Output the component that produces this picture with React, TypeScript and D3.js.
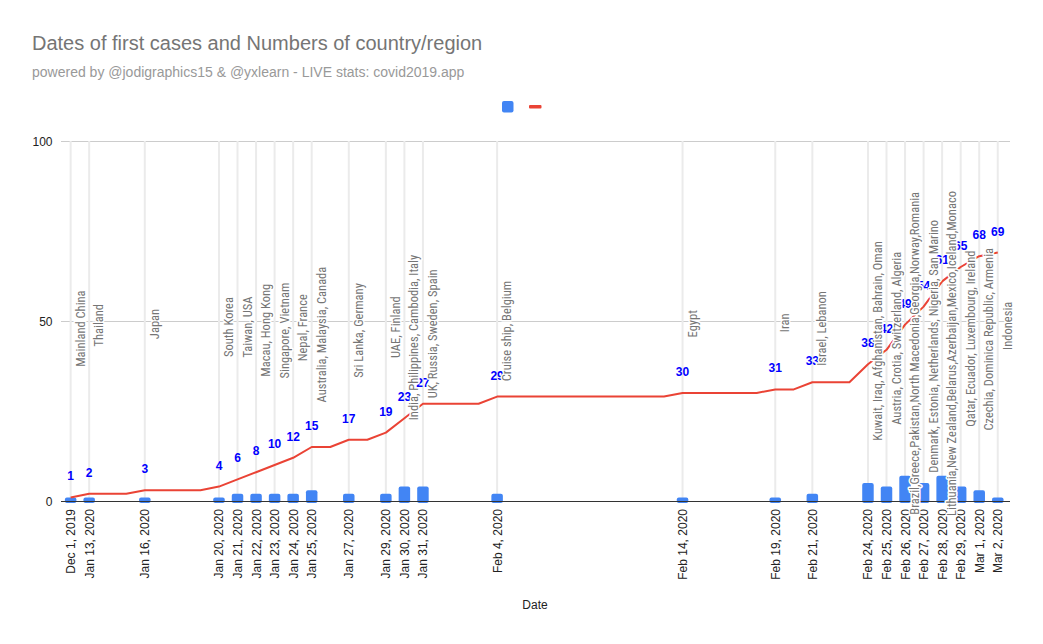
import React, { useEffect, useRef } from "react";
import * as d3 from "d3";

// ---------- data ----------
const dateLabels = [
  "Dec 1, 2019", "Jan 13, 2020", "Jan 16, 2020", "Jan 20, 2020", "Jan 21, 2020",
  "Jan 22, 2020", "Jan 23, 2020", "Jan 24, 2020", "Jan 25, 2020", "Jan 27, 2020",
  "Jan 29, 2020", "Jan 30, 2020", "Jan 31, 2020", "Feb 4, 2020", "Feb 14, 2020",
  "Feb 19, 2020", "Feb 21, 2020", "Feb 24, 2020", "Feb 25, 2020", "Feb 26, 2020",
  "Feb 27, 2020", "Feb 28, 2020", "Feb 29, 2020", "Mar 1, 2020", "Mar 2, 2020",
];
// position on the time axis, in days after the first tick (as drawn in the chart)
const dayPositions = [0, 1, 4, 8, 9, 10, 11, 12, 13, 15, 17, 18, 19, 23, 33, 38, 40, 43, 44, 45, 46, 47, 48, 49, 50];
// new countries/regions on each date (bars)
const newCountries = [1, 1, 1, 1, 2, 2, 2, 2, 3, 2, 2, 4, 4, 2, 1, 1, 2, 5, 4, 7, 5, 7, 4, 3, 1];
// cumulative number of countries/regions (labels)
const totalCountries = [1, 2, 3, 4, 6, 8, 10, 12, 15, 17, 19, 23, 27, 29, 30, 31, 33, 38, 42, 49, 54, 61, 65, 68, 69];
const countryNames = [
  "Mainland China", "Thailand", "Japan", "South Korea", "Taiwan, USA",
  "Macau, Hong Kong", "Singapore, Vietnam", "Nepal, France", "Australia, Malaysia, Canada",
  "Sri Lanka, Germany", "UAE, Finland", "India, Philippines, Cambodia, Italy",
  "UK, Russia, Sweden, Spain", "Cruise ship, Belgium", "Egypt", "Iran", "Israel, Lebanon",
  "Kuwait, Iraq, Afghanistan, Bahrain, Oman", "Austria, Crotia, Switzerland, Algeria",
  "Brazil,Greece,Pakistan,North Macedonia,Georgia,Norway,Romania",
  "Denmark, Estonia, Netherlands, Nigeria, San Marino",
  "Lithuania,New Zealand,Belarus,Azerbaijan,Mexico,Iceland,Monaco",
  "Qatar, Ecuador, Luxembourg, Ireland", "Czechia, Dominica Republic, Armenia", "Indonesia",
];
const yTicks = [0, 50, 100];

const W = 1043;
const H = 644;
const BLUE = "#4285f4";
const RED = "#ea4335";
const FONT = "Arial, 'Liberation Sans', sans-serif";
const NARROW = "'Liberation Sans Narrow', 'Arial Narrow', 'Roboto Condensed', 'DejaVu Sans Condensed', sans-serif";

export default function App() {
  const ref = useRef<SVGSVGElement>(null);

  useEffect(() => {
    const svg = d3.select(ref.current);
    svg.selectAll("*").remove();

    const left = 61, right = 1010, top = 141, bottom = 501;
    const x = d3.scaleLinear().domain([-0.52, 50.66]).range([left, right]);
    const y = d3.scaleLinear().domain([0, 100]).range([bottom, top]);

    // title
    svg.append("text").attr("x", 32).attr("y", 50)
      .attr("font-family", FONT).attr("font-size", 20).attr("fill", "#757575")
      .text("Dates of first cases and Numbers of country/region");
    svg.append("text").attr("x", 32).attr("y", 77)
      .attr("font-family", FONT).attr("font-size", 14).attr("fill", "#999999")
      .text("powered by @jodigraphics15 & @yxlearn - LIVE stats: covid2019.app");

    // legend
    svg.append("rect").attr("x", 502).attr("y", 101).attr("width", 11.5).attr("height", 11.5)
      .attr("rx", 2).attr("fill", BLUE);
    svg.append("rect").attr("x", 529).attr("y", 105).attr("width", 12.5).attr("height", 3.5)
      .attr("rx", 1).attr("fill", RED);

    // horizontal grid
    svg.append("g").selectAll("line").data(yTicks.filter(t => t > 0)).join("line")
      .attr("x1", left).attr("x2", right)
      .attr("y1", d => y(d) + 0.5).attr("y2", d => y(d) + 0.5)
      .attr("stroke", "#cccccc").attr("stroke-width", 1);

    // vertical grid
    svg.append("g").selectAll("line").data(dayPositions).join("line")
      .attr("x1", d => x(d)).attr("x2", d => x(d))
      .attr("y1", top).attr("y2", bottom)
      .attr("stroke", "#ebebeb").attr("stroke-width", 2);

    // y labels
    svg.append("g").selectAll("text").data(yTicks).join("text")
      .attr("x", 52.5).attr("y", d => y(d) + 4.5)
      .attr("text-anchor", "end").attr("font-family", FONT).attr("font-size", 12)
      .attr("fill", "#222222").text(d => String(d));

    // bars
    const bw = 11.5;
    svg.append("g").selectAll("rect").data(dayPositions).join("rect")
      .attr("x", d => x(d) - bw / 2)
      .attr("y", (d, i) => y(newCountries[i]))
      .attr("width", bw)
      .attr("height", (d, i) => y(0) - y(newCountries[i]) + 2)
      .attr("rx", 2).attr("fill", BLUE);

    // baseline
    svg.append("line").attr("x1", left).attr("x2", right)
      .attr("y1", bottom + 0.5).attr("y2", bottom + 0.5)
      .attr("stroke", "#333333").attr("stroke-width", 1);

    // cumulative line, one point per day, carrying the latest total forward
    const lastDay = dayPositions[dayPositions.length - 1];
    const daily: [number, number][] = d3.range(dayPositions[0], lastDay + 1).map(day => {
      let v = 0;
      dayPositions.forEach((p, i) => { if (p <= day) v = totalCountries[i]; });
      return [day, v];
    });
    svg.append("path").datum(daily)
      .attr("d", d3.line<[number, number]>().x(d => x(d[0])).y(d => y(d[1])))
      .attr("fill", "none").attr("stroke", RED).attr("stroke-width", 2)
      .attr("stroke-linejoin", "round");

    // x tick labels
    svg.append("g").selectAll("text").data(dayPositions).join("text")
      .attr("transform", d => `translate(${x(d) + 4.5},509) rotate(-90)`)
      .attr("text-anchor", "end").attr("font-family", FONT).attr("font-size", 12)
      .attr("fill", "#222222").text((d, i) => dateLabels[i]);

    // axis title
    svg.append("text").attr("x", 535).attr("y", 609).attr("text-anchor", "middle")
      .attr("font-family", FONT).attr("font-size", 12).attr("fill", "#222222").text("Date");

    // total labels
    svg.append("g").selectAll("text").data(dayPositions).join("text")
      .attr("x", d => x(d)).attr("y", (d, i) => y(totalCountries[i]) - 17)
      .attr("text-anchor", "middle").attr("font-family", FONT).attr("font-size", 12)
      .attr("font-weight", "bold").attr("fill", "#0000ff")
      .text((d, i) => String(totalCountries[i]));

    // country annotations
    const ann = svg.append("g").selectAll("text").data(dayPositions).join("text")
      .attr("font-family", NARROW).attr("font-size", 12.5).attr("fill", "#757575")
      .attr("stroke", "#ffffff").attr("stroke-width", 3).attr("paint-order", "stroke")
      .attr("stroke-linejoin", "round")
      .text((d, i) => countryNames[i]);
    const anchorY = y(50);
    ann.each(function (d) {
      const el = this as SVGTextElement;
      const len = el.getComputedTextLength();
      d3.select(el).attr("transform", `translate(${x(d) + 14},${anchorY + 0.6 * len}) rotate(-90)`);
    });
  }, []);

  return (
    <svg ref={ref} width={W} height={H}
      style={{ position: "fixed", left: 0, top: 0, background: "#fff" }} />
  );
}
